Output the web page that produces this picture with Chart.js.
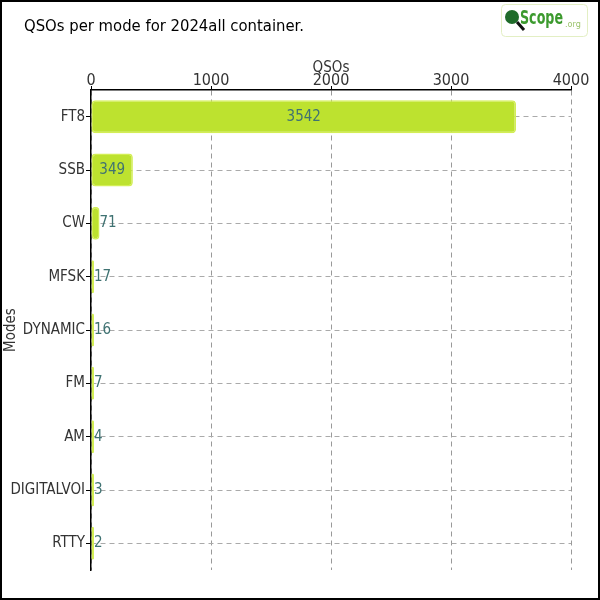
<!DOCTYPE html>
<html>
<head>
<meta charset="utf-8">
<script src="https://cdn.jsdelivr.net/npm/chart.js@4/dist/chart.umd.min.js"></script>
<style>
  html, body { margin: 0; padding: 0; background: #fff; }
  #wrap { width: 600px; height: 600px; position: relative; }
</style>
</head>
<body>
<div id="wrap"><canvas id="modesChart" width="600" height="600"></canvas></div>
<script>
const modes = ['FT8', 'SSB', 'CW', 'MFSK', 'DYNAMIC', 'FM', 'AM', 'DIGITALVOI', 'RTTY'];
const qsos = [3542, 349, 71, 17, 16, 7, 4, 3, 2];
const xTicks = [0, 1000, 2000, 3000, 4000];

const chartTitle = 'QSOs per mode for 2024all container.';
const titleFont = '"DejaVu Sans Condensed", "DejaVu Sans", sans-serif';
const tickFont = '"DejaVu Sans Condensed", "DejaVu Sans", sans-serif';

// frame, title and logo
const decorPlugin = {
    id: 'decor',
    beforeDraw(chart) {
        const ctx = chart.ctx;
        ctx.save();
        ctx.fillStyle = '#fff';
        ctx.fillRect(0, 0, chart.width, chart.height);
        ctx.restore();
    },
    afterDraw(chart) {
        const ctx = chart.ctx;
        ctx.save();
        ctx.strokeStyle = '#000';
        ctx.lineWidth = 2;
        ctx.strokeRect(1, 1, chart.width - 2, chart.height - 2);

        ctx.fillStyle = '#000';
        ctx.font = '16.5px ' + titleFont;
        ctx.textBaseline = 'middle';
        ctx.textAlign = 'left';
        ctx.fillText(chartTitle, 24, 27);

        // logo
        ctx.strokeStyle = '#e3efc4';
        ctx.lineWidth = 1;
        ctx.beginPath();
        ctx.roundRect(501.5, 4.5, 86, 32, 4);
        ctx.stroke();
        ctx.fillStyle = '#1f6b2a';
        ctx.beginPath();
        ctx.arc(512, 17, 7, 0, Math.PI * 2);
        ctx.fill();
        ctx.strokeStyle = '#111';
        ctx.lineWidth = 3;
        ctx.beginPath();
        ctx.moveTo(517, 22);
        ctx.lineTo(524, 30);
        ctx.stroke();
        ctx.fillStyle = '#3c9a2e';
        ctx.font = 'bold 19px ' + titleFont;
        const sw = ctx.measureText('Scope').width;
        ctx.save();
        ctx.translate(520, 19);
        ctx.scale(43 / sw, 1);
        ctx.fillText('Scope', 0, 0);
        ctx.restore();
        ctx.fillStyle = '#9cc46e';
        ctx.font = '9px ' + titleFont;
        ctx.fillText('.org', 565, 25);
        ctx.restore();
    }
};

// value labels on the bars
const valueLabels = {
    id: 'valueLabels',
    afterDatasetsDraw(chart) {
        const ctx = chart.ctx;
        const meta = chart.getDatasetMeta(0);
        ctx.save();
        ctx.fillStyle = '#3f7272';
        ctx.font = '15px ' + tickFont;
        ctx.textBaseline = 'middle';
        meta.data.forEach((bar, i) => {
            const text = String(qsos[i]);
            const w = ctx.measureText(text).width;
            const barW = bar.x - bar.base;
            if (w + 6 < barW) {
                ctx.textAlign = 'center';
                ctx.fillText(text, (bar.x + bar.base) / 2, bar.y);
            } else {
                ctx.textAlign = 'left';
                ctx.fillText(text, bar.x, bar.y);
            }
        });
        ctx.restore();
    }
};

const ctx = document.getElementById('modesChart').getContext('2d');
new Chart(ctx, {
    type: 'bar',
    data: {
        labels: modes,
        datasets: [{
            label: 'QSOs',
            data: qsos,
            backgroundColor: '#bde22f',
            borderColor: '#d3ee55',
            borderWidth: 1.5,
            borderRadius: 4,
            borderSkipped: false,
            barPercentage: 0.62,
            categoryPercentage: 1,
            minBarLength: 3
        }]
    },
    options: {
        indexAxis: 'y',
        responsive: false,
        animation: false,
        layout: { padding: { top: 59, left: 2, right: 29, bottom: 30 } },
        plugins: {
            legend: { display: false },
            tooltip: { enabled: false }
        },
        scales: {
            x: {
                position: 'top',
                min: 0,
                max: 4000,
                afterBuildTicks: axis => { axis.ticks = xTicks.map(v => ({ value: v })); },
                afterFit: axis => { axis.height = 31; },
                title: { display: true, text: 'QSOs', color: '#333', font: { family: tickFont, size: 15 }, padding: 0 },
                ticks: {
                    color: '#333',
                    font: { family: tickFont, size: 16 },
                    padding: -4,
                    maxRotation: 0,
                    callback: v => String(v)
                },
                grid: {
                    color: '#999',
                    tickColor: '#000',
                    tickBorderDash: [],
                    tickLength: 4,
                    lineWidth: 1
                },
                border: { display: true, color: '#000', width: 1.5, dash: [5, 4] }
            },
            y: {
                afterFit: axis => { axis.width = 89; },
                title: { display: true, text: 'Modes', color: '#333', font: { family: tickFont, size: 15 }, padding: 0 },
                ticks: { color: '#333', font: { family: tickFont, size: 15 }, padding: 1 },
                grid: {
                    offset: false,
                    color: '#aaa',
                    tickColor: '#000',
                    tickBorderDash: [],
                    tickLength: 5,
                    lineWidth: 1
                },
                border: { display: true, color: '#000', width: 1.5, dash: [5, 4] }
            }
        }
    },
    plugins: [decorPlugin, valueLabels]
});
</script>
</body>
</html>
